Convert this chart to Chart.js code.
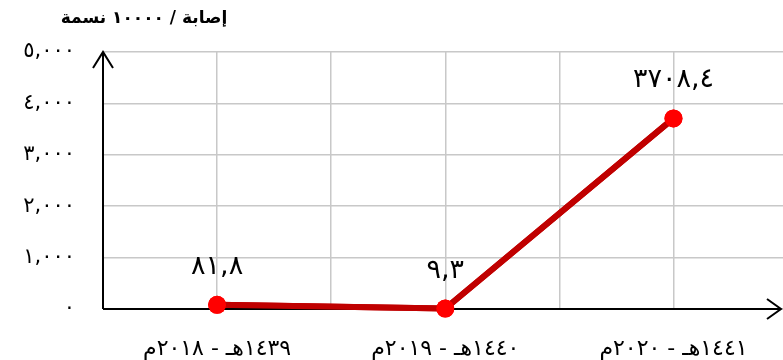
<!DOCTYPE html>
<html>
<head>
<meta charset="utf-8">
<script src="https://cdn.jsdelivr.net/npm/chart.js@4.4.1/dist/chart.umd.min.js"></script>
<style>
  html, body { margin: 0; padding: 0; background: #fff; }
  #wrap { width: 783px; height: 360px; }
</style>
</head>
<body>
<div id="wrap"><canvas id="rateChart"></canvas></div>
<script>
const yAxisTitle = "إصابة / ١٠٠٠٠ نسمة";
const categories = ["١٤٣٩هـ - ٢٠١٨م", "١٤٤٠هـ - ٢٠١٩م", "١٤٤١هـ - ٢٠٢٠م"];
const rates = [81.8, 9.3, 3708.4];
const yTickLabels = ["٠", "١,٠٠٠", "٢,٠٠٠", "٣,٠٠٠", "٤,٠٠٠", "٥,٠٠٠"];

const arabicDigits = "٠١٢٣٤٥٦٧٨٩";
function toArabic(value) {
  return String(value)
    .replace(".", ",")
    .replace(/[0-9]/g, (d) => arabicDigits[d]);
}

const fontFamily = "'DejaVu Sans', sans-serif";

// axes with open arrowheads, value labels and the unit caption
const decorations = {
  id: "decorations",
  afterDatasetsDraw(chart) {
    const ctx = chart.ctx;
    const area = chart.chartArea;
    const y0 = chart.scales.y.getPixelForValue(0);
    const yTop = chart.scales.y.getPixelForValue(5000);
    const xLeft = area.left;
    const xRight = 781;

    ctx.save();
    ctx.strokeStyle = "#000";
    ctx.lineWidth = 2;
    ctx.beginPath();
    ctx.moveTo(xLeft, y0);
    ctx.lineTo(xLeft, yTop);
    ctx.moveTo(xLeft - 10, yTop + 16);
    ctx.lineTo(xLeft, yTop);
    ctx.lineTo(xLeft + 10, yTop + 16);
    ctx.moveTo(xLeft, y0);
    ctx.lineTo(xRight, y0);
    ctx.moveTo(xRight - 14, y0 - 10);
    ctx.lineTo(xRight, y0);
    ctx.lineTo(xRight - 14, y0 + 10);
    ctx.stroke();
    ctx.restore();

    // redraw points so they sit above the axis line
    chart.getDatasetMeta(0).controller.draw();

    ctx.save();
    ctx.fillStyle = "#000";
    ctx.textAlign = "center";
    ctx.textBaseline = "middle";
    ctx.font = "27px " + fontFamily;
    chart.getDatasetMeta(0).data.forEach((pt, i) => {
      ctx.fillText(toArabic(rates[i]), pt.x, pt.y - 38);
    });
    ctx.font = "bold 17px " + fontFamily;
    ctx.fillText(yAxisTitle, 144, 19);
    ctx.restore();
  },
};

new Chart(document.getElementById("rateChart"), {
  type: "line",
  data: {
    datasets: [
      {
        data: rates.map((v, i) => ({ x: i, y: v })),
        borderColor: "#c00000",
        borderWidth: 6,
        pointBackgroundColor: "#ff0000",
        pointBorderWidth: 0,
        pointRadius: 9,
        tension: 0,
        clip: false,
      },
    ],
  },
  options: {
    responsive: true,
    maintainAspectRatio: false,
    animation: false,
    layout: { autoPadding: false, padding: { top: 52, right: 0, left: 0, bottom: 0 } },
    plugins: { legend: { display: false }, tooltip: { enabled: false } },
    scales: {
      x: {
        type: "linear",
        min: -0.5,
        max: 2.48,
        afterBuildTicks: (scale) => {
          scale.ticks = [-0.5, 0, 0.5, 1, 1.5, 2].map((v) => ({ value: v }));
        },
        afterFit: (scale) => {
          scale.height = 51;
          scale.paddingLeft = 0;
          scale.paddingRight = 0;
        },
        border: { display: false },
        grid: { color: "#c8c8c8", lineWidth: 1.5, drawTicks: false },
        ticks: {
          padding: 27,
          color: "#000",
          font: { family: fontFamily, size: 22 },
          maxRotation: 0,
          autoSkip: false,
          callback: (v) => (Number.isInteger(v) ? categories[v] : ""),
        },
      },
      y: {
        min: 0,
        max: 5000,
        afterBuildTicks: (scale) => {
          scale.ticks = [0, 1000, 2000, 3000, 4000, 5000].map((v) => ({ value: v }));
        },
        afterFit: (scale) => { scale.width = 103; },
        border: { display: false },
        grid: { color: "#c8c8c8", lineWidth: 1.5, drawTicks: false },
        ticks: {
          padding: 28,
          color: "#000",
          font: { family: fontFamily, size: 21 },
          callback: (v) => yTickLabels[v / 1000],
        },
      },
    },
  },
  plugins: [decorations],
});
</script>
</body>
</html>
